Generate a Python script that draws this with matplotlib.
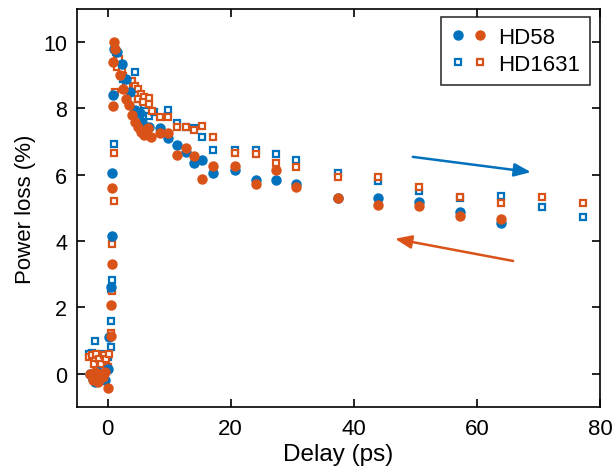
import numpy as np
import matplotlib
matplotlib.use('Agg')
import matplotlib.pyplot as plt
from matplotlib.legend_handler import HandlerTuple

plt.rcParams['font.family'] = ['Liberation Sans', 'DejaVu Sans']

BLUE = '#0072BD'
ORANGE = '#D95319'

# HD58, forward scan (blue filled)
hd58_fwd_x = [-2.8, -2.4, -2.0, -1.6, -1.2, -0.8, -0.4, 0, 0.3, 0.6, 0.7, 0.8, 0.9, 1.0,
              1.6, 2.4, 3.0, 3.6, 4.4, 5.2, 5.6, 6.0, 6.8, 8.6, 9.9, 11.3, 12.7,
              14.0, 15.3, 17.2, 20.7, 24.1, 27.3, 30.7, 37.4, 43.9, 50.6, 57.2, 63.9]
hd58_fwd_y = [0.0, -0.15, -0.25, 0.05, -0.1, 0.0, -0.2, 0.15, 1.1, 2.6, 4.15, 6.05, 8.4, 9.8,
              9.7, 9.35, 8.9, 8.5, 7.95, 7.85, 7.6, 7.3, 7.45, 7.4, 7.1, 6.9, 6.7,
              6.36, 6.45, 6.05, 6.14, 5.84, 5.84, 5.72, 5.3, 5.3, 5.18, 4.88, 4.55]

# HD58, backward scan (orange filled)
hd58_bwd_x = [-2.8, -2.4, -2.0, -1.6, -1.2, -0.8, -0.4, 0, 0.5, 0.6, 0.7, 0.7, 0.9, 1.1,
              1.2, 0.9, 2.0, 2.5, 3.0, 3.5, 4.0, 4.5, 5.0, 5.5, 6.0, 6.5, 7.0,
              8.6, 9.9, 11.3, 12.7, 14.0, 15.3, 17.2, 20.7, 24.1, 27.3, 30.7,
              37.4, 43.9, 50.6, 57.2, 63.9]
hd58_bwd_y = [0.0, -0.2, 0.05, -0.25, 0.0, -0.1, 0.05, -0.42, 1.15, 2.08, 3.31, 5.6, 8.07, 10.0,
              9.8, 9.4, 9.0, 8.6, 8.3, 8.1, 7.8, 7.6, 7.45, 7.3, 7.2, 7.4, 7.14,
              7.26, 7.26, 6.6, 6.8, 6.57, 5.87, 6.27, 6.27, 5.72, 6.14, 5.63,
              5.3, 5.09, 5.06, 4.77, 4.67]

# HD1631, forward scan (blue open squares)
hd1631_fwd_x = [-3.0, -2.6, -2.0, -1.0, 0, 0.5, 0.5, 0.6, 0.7, 1.1, 1.3, 1.8, 2.5, 3.0,
                4.4, 5.0, 6.0, 6.8, 7.5, 9.9, 11.3, 12.7, 14.0, 15.3, 17.2, 20.7,
                24.1, 27.3, 30.7, 37.4, 43.9, 50.6, 57.2, 63.9, 70.6, 77.2]
hd1631_fwd_y = [0.6, 0.63, 1.0, 0.6, 0.5, 0.81, 1.6, 2.56, 2.83, 6.93, 9.7, 9.3, 8.9, 8.7,
                9.1, 8.3, 8.1, 7.77, 7.9, 7.95, 7.56, 7.45, 7.4, 7.14, 6.75, 6.75,
                6.75, 6.63, 6.45, 6.05, 5.8, 5.5, 5.3, 5.36, 5.03, 4.73]

# HD1631, backward scan (orange open squares)
hd1631_bwd_x = [-3.0, -2.6, -2.2, -1.8, -1.4, -1.0, -0.6, -0.3, 0, 0.3, 0.6, 0.7, 0.8, 1.0,
                1.1, 1.2, 1.6, 1.8, 1.5, 2.3, 2.5, 3.9, 3.1, 4.4, 5.0, 5.5, 4.9,
                6.0, 6.7, 5.8, 6.8, 7.3, 8.6, 9.9, 11.3, 12.7, 14.0, 15.3, 17.2,
                20.7, 24.1, 27.3, 30.7, 37.4, 43.9, 50.6, 57.2, 63.9, 70.6, 77.2]
hd1631_bwd_y = [0.5, 0.55, 0.3, 0.6, 0.45, 0.3, 0.55, 0.45, 0.2, 0.6, 1.24, 2.5, 3.92, 5.21,
                6.66, 8.5, 9.64, 9.5, 9.25, 9.13, 8.98, 8.83, 8.67, 8.67, 8.58, 8.43, 8.28,
                8.34, 8.31, 8.19, 8.13, 7.92, 7.74, 7.74, 7.44, 7.44, 7.35, 7.47, 7.14,
                6.66, 6.63, 6.36, 6.24, 5.93, 5.93, 5.63, 5.33, 5.15, 5.33, 5.15]

fig = plt.figure(figsize=(6.14, 4.77), dpi=100)
ax = fig.add_axes([0.125, 0.145, 0.852, 0.834])

sq_kw = dict(marker='s', ms=4.5, mew=1.6, mfc='white', ls='none')
c_kw = dict(marker='o', ms=6.5, ls='none')

h1b, = ax.plot(hd1631_fwd_x, hd1631_fwd_y, color=BLUE, **sq_kw)
h1o, = ax.plot(hd1631_bwd_x, hd1631_bwd_y, color=ORANGE, **sq_kw)
h58b, = ax.plot(hd58_fwd_x, hd58_fwd_y, color=BLUE, **c_kw)
h58o, = ax.plot(hd58_bwd_x, hd58_bwd_y, color=ORANGE, **c_kw)

# scan direction arrows
ax.annotate('', xy=(68.8, 6.08), xytext=(49.6, 6.54),
            arrowprops=dict(arrowstyle='-|>,head_length=1.0,head_width=0.4',
                            color=BLUE, lw=1.8, shrinkA=0, shrinkB=0))
ax.annotate('', xy=(46.7, 4.07), xytext=(65.9, 3.4),
            arrowprops=dict(arrowstyle='-|>,head_length=1.0,head_width=0.4',
                            color=ORANGE, lw=1.8, shrinkA=0, shrinkB=0))

ax.set_xlim(-5, 80)
ax.set_ylim(-1, 11)
ax.set_xticks([0, 20, 40, 60, 80])
ax.set_yticks([0, 2, 4, 6, 8, 10])
ax.tick_params(direction='in', top=True, right=True, length=6, width=1.2)
ax.tick_params(axis='x', pad=8, labelsize=16)
ax.tick_params(axis='y', pad=7, labelsize=15.5)
for s in ax.spines.values():
    s.set_linewidth(1.2)
ax.set_xlabel('Delay (ps)', fontsize=17.5, labelpad=3)
ax.set_ylabel('Power loss (%)', fontsize=16, labelpad=5)

leg = ax.legend([(h58b, h58o), (h1b, h1o)], ['HD58', 'HD1631'],
                handler_map={tuple: HandlerTuple(ndivide=None, pad=0.35)},
                loc='upper right', fontsize=16, frameon=True, fancybox=False,
                handlelength=1.6, borderpad=0.45, handletextpad=0.5,
                labelspacing=0.25, borderaxespad=0,
                bbox_to_anchor=(0.981, 0.98))
leg.get_frame().set_edgecolor('black')
leg.get_frame().set_linewidth(1.2)

fig.savefig('out.png', dpi=100)
